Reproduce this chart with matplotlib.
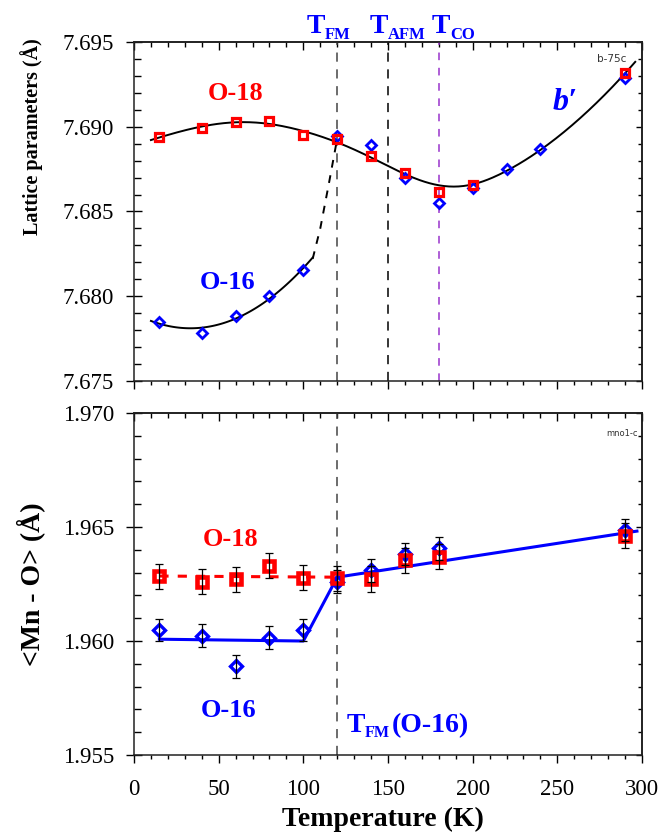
import numpy as np
import matplotlib.pyplot as plt
from matplotlib.ticker import MultipleLocator, NullFormatter
from numpy.polynomial import Polynomial

plt.rcParams['font.family'] = ['Liberation Serif', 'DejaVu Serif']
plt.rcParams['axes.linewidth'] = 1.1

# --- övre panelen: gitterparameter b' ---
T_b18 = [15, 40, 60, 80, 100, 120, 140, 160, 180, 200, 290]
b18 = [7.68938, 7.68991, 7.69028, 7.69036, 7.68951, 7.68926, 7.68827,
       7.68729, 7.68617, 7.68656, 7.69315]
T_b16 = [15, 40, 60, 80, 100, 120, 140, 160, 180, 200, 220, 240, 290]
b16 = [7.67850, 7.67781, 7.67883, 7.68003, 7.68155, 7.68945, 7.68892,
       7.68696, 7.68548, 7.68637, 7.68749, 7.68869, 7.69286]

# streckad hjälplinje mellan låg-T och hög-T grenen
T_guide = [105.5, 110, 115, 120]
b_guide = [7.6822, 7.6840, 7.6866, 7.6893]

# --- nedre panelen: <Mn - O> ---
T_mn = [15, 40, 60, 80, 100, 120, 140, 160, 180, 290]
mn18 = [1.96285, 1.96260, 1.96270, 1.96330, 1.96278, 1.96275, 1.96272,
        1.96355, 1.96370, 1.96461]
err18 = [0.00055, 0.00055, 0.00055, 0.00055, 0.00055, 0.00055, 0.00055,
         0.00055, 0.00055, 0.00055]
mn16 = [1.96048, 1.96023, 1.95890, 1.96015, 1.96048, 1.96260, 1.96311,
        1.96382, 1.96406, 1.96487]
err16 = [0.0005, 0.0005, 0.0005, 0.0005, 0.0005, 0.0005, 0.0005,
         0.0005, 0.0005, 0.0005]

line16_T = [15, 100, 120, 297]
line16 = [1.96008, 1.96000, 1.96280, 1.96482]
line18_T = [15, 120]
line18 = [1.96285, 1.96280]

blue = '#0000ff'
red = '#ff0000'


def local_fit(xs, ys, x_new, width=30.0):
    # lokalt viktad andragradsanpassning (loess-liknande utjämning)
    xs = np.asarray(xs, float)
    ys = np.asarray(ys, float)
    y0 = ys.mean()
    out = []
    for x0 in x_new:
        w = np.exp(-0.5 * ((xs - x0) / width) ** 2)
        c = np.polyfit(xs - x0, ys - y0, 2, w=np.sqrt(w))
        out.append(c[-1] + y0)
    return np.array(out)


def style_axes(ax, ymin, ymax):
    ax.set_xlim(0, 300)
    ax.set_ylim(ymin, ymax)
    ax.xaxis.set_major_locator(MultipleLocator(50))
    ax.xaxis.set_minor_locator(MultipleLocator(10))
    ax.yaxis.set_major_locator(MultipleLocator(0.005))
    ax.yaxis.set_minor_locator(MultipleLocator(0.001))
    ax.yaxis.set_major_formatter(plt.FormatStrFormatter('%.3f'))
    ax.tick_params(axis='x', which='major', direction='out', length=6, width=1,
                   top=False, labelsize=16.5, pad=11)
    ax.tick_params(axis='x', which='minor', direction='out', length=3, width=1, top=False)
    ax.tick_params(axis='y', which='major', direction='inout', length=11, width=1,
                   right=False, labelsize=16.5, pad=9)
    ax.tick_params(axis='y', which='minor', direction='in', length=5, width=1, right=False)
    for s in ax.spines.values():
        s.set_color('#222222')

    top = ax.secondary_xaxis('top')
    top.xaxis.set_major_locator(MultipleLocator(50))
    top.xaxis.set_minor_locator(MultipleLocator(10))
    top.xaxis.set_major_formatter(NullFormatter())
    top.tick_params(which='major', direction='in', length=6, width=1)
    top.tick_params(which='minor', direction='in', length=3.5, width=1)

    right = ax.secondary_yaxis('right')
    right.yaxis.set_major_locator(MultipleLocator(0.005))
    right.yaxis.set_minor_locator(MultipleLocator(0.001))
    right.yaxis.set_major_formatter(NullFormatter())
    right.tick_params(which='major', direction='in', length=4.5, width=1)
    right.tick_params(which='minor', direction='in', length=3, width=1)


def t_label(ax, x_T, x_sub, y, sub, y_sub, transform, size=20, sub_size=12, rest=None, x_rest=None):
    # "T" med nedsänkt index, byggt av separata texter
    ax.text(x_T, y, 'T', transform=transform, color=blue, fontsize=size,
            fontweight='bold', va='baseline')
    ax.text(x_sub, y_sub, sub, transform=transform, color=blue, fontsize=sub_size,
            fontweight='bold', va='baseline')
    if rest:
        ax.text(x_rest, y, rest, transform=transform, color=blue, fontsize=size,
                fontweight='bold', va='baseline')


fig = plt.figure(figsize=(6.68, 8.32), dpi=100)
ax1 = fig.add_axes([0.2006, 0.5421, 0.7605, 0.4075])
ax2 = fig.add_axes([0.2006, 0.0925, 0.7605, 0.4111])

# ---------- övre panelen ----------
style_axes(ax1, 7.675, 7.695)
ax1.tick_params(axis='x', labelbottom=False)

# utjämnad kurva för hög-T grenen: alla O-18 plus O-16 vid 220/240 K
hi_T = T_b18 + [220, 240]
hi_b = b18 + [b16[T_b16.index(220)], b16[T_b16.index(240)]]
order = np.argsort(hi_T)
hi_T = np.array(hi_T)[order]
hi_b = np.array(hi_b)[order]
T_hi = np.linspace(10, 296, 300)
ax1.plot(T_hi, local_fit(hi_T, hi_b, T_hi), color='black', lw=1.4, zorder=2)

low_T = [t for t in T_b16 if t <= 100]
fit_lo = Polynomial.fit(low_T, b16[:len(low_T)], 2)
T_lo = np.linspace(10, 105.5, 100)
ax1.plot(T_lo, fit_lo(T_lo), color='black', lw=1.4, zorder=2)
ax1.plot(T_guide, b_guide, color='black', lw=1.4, ls=(0, (4, 4)), zorder=2)

ax1.axvline(120, color='#444444', lw=1.1, ls=(0, (6, 5)), zorder=1)
ax1.axvline(150, color='black', lw=1.1, ls=(0, (6, 5)), zorder=1)
ax1.axvline(180, color='#9933cc', lw=1.1, ls=(0, (5, 5)), zorder=1)

ax1.plot(T_b16, b16, ls='none', marker='D', ms=5, mfc='none', mec=blue,
         mew=2, zorder=3)
ax1.plot(T_b18, b18, ls='none', marker='s', ms=5.6, mfc='none', mec=red,
         mew=2.3, zorder=4)

ax1.text(43.7, 7.69158, 'O-18', color=red, fontsize=19, fontweight='bold')
ax1.text(39, 7.68043, 'O-16', color=blue, fontsize=19, fontweight='bold')
ax1.text(247, 7.69099, 'b\u2032', color=blue, fontsize=23, fontweight='bold',
         fontstyle='italic')
ax1.text(291, 7.6943, 'b-75c', color='#333333', fontsize=7.5, family='DejaVu Sans',
         ha='right', va='top')

tr = ax1.get_xaxis_transform()
t_label(ax1, 102.2, 112.8, 1.0265, 'FM', 1.0088, tr)
t_label(ax1, 139.4, 150.0, 1.0265, 'AFM', 1.0088, tr)
t_label(ax1, 176.0, 186.6, 1.0265, 'CO', 1.0088, tr)

ax1.set_ylabel('Lattice parameters (\u00c5)', fontsize=14.5, fontweight='bold')
ax1.yaxis.set_label_coords(-0.18, 0.72)

# ---------- nedre panelen ----------
style_axes(ax2, 1.955, 1.970)

ax2.axvline(120, color='#444444', lw=1.1, ls=(0, (6, 5)), zorder=1)
ax2.plot(line18_T, line18, color=red, lw=2.2, ls=(0, (3, 3)), zorder=2)
ax2.plot(line16_T, line16, color=blue, lw=2.2, zorder=2)

ax2.plot(T_mn, mn16, ls='none', marker='D', ms=6, mfc='none', mec=blue,
         mew=2.4, zorder=3)
ax2.plot(T_mn, mn18, ls='none', marker='s', ms=7, mfc='none', mec=red,
         mew=3.3, zorder=4)
ax2.errorbar(T_mn, mn16, yerr=err16, fmt='none', ecolor='black', elinewidth=0.9,
             capsize=2.8, capthick=0.9, zorder=5)
ax2.errorbar(T_mn, mn18, yerr=err18, fmt='none', ecolor='black', elinewidth=0.9,
             capsize=2.8, capthick=0.9, zorder=5)

ax2.text(40.6, 1.96418, 'O-18', color=red, fontsize=19, fontweight='bold')
ax2.text(39.6, 1.95668, 'O-16', color=blue, fontsize=19, fontweight='bold')
t_label(ax2, 125.6, 136.4, 1.95602, 'FM', 1.95580, ax2.transData,
        size=20, sub_size=11.6, rest='(O-16)', x_rest=152.2)
ax2.text(297.5, 1.9693, 'mno1-c', color='#333333', fontsize=6, family='DejaVu Sans',
         ha='right', va='top')

ax2.set_ylabel('<Mn - O> (\u00c5)', fontsize=20, fontweight='bold')
ax2.yaxis.set_label_coords(-0.175, 0.5)
ax2.set_xlabel('Temperature (K)', fontsize=20, fontweight='bold')
ax2.xaxis.label.set_va('top')
ax2.xaxis.set_label_coords(0.491, -0.15)

fig.savefig('out.png', dpi=100, facecolor='white')
